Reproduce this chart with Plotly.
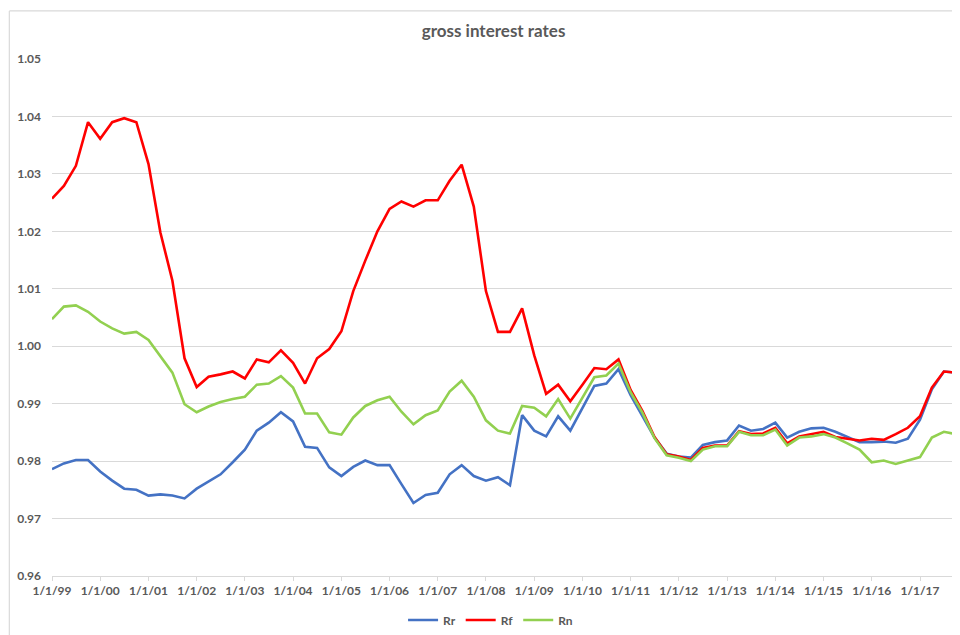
import pandas as pd
import plotly.graph_objects as go

dates = pd.date_range("1999-01-01", periods=76, freq="QS")

Rr = [0.9786, 0.9796, 0.9802, 0.9802, 0.9782, 0.9766, 0.9752, 0.9750,
      0.9740, 0.9742, 0.9740, 0.9735, 0.9752, 0.9764, 0.9777, 0.9798,
      0.9820, 0.9853, 0.9867, 0.9885, 0.9869, 0.9825, 0.9823, 0.9789,
      0.9774, 0.9790, 0.9801, 0.9793, 0.9793, 0.9760, 0.9727, 0.9741,
      0.9745, 0.9777, 0.9793, 0.9774, 0.9766, 0.9772, 0.9758, 0.9880,
      0.9853, 0.9843, 0.9878, 0.9853, 0.9892, 0.9931, 0.9935, 0.9960,
      0.9915, 0.9878, 0.9841, 0.9813, 0.9808, 0.9806, 0.9828, 0.9833,
      0.9836, 0.9862, 0.9853, 0.9856, 0.9867, 0.9841, 0.9851, 0.9857,
      0.9858, 0.9851, 0.9842, 0.9833, 0.9833, 0.9834, 0.9832, 0.9839,
      0.9872, 0.9925, 0.9956, 0.9954]

Rf = [1.0257, 1.0279, 1.0314, 1.0390, 1.0361, 1.0390, 1.0397, 1.0390,
      1.0317, 1.0198, 1.0114, 0.9979, 0.9929, 0.9947, 0.9951, 0.9956,
      0.9944, 0.9977, 0.9972, 0.9993, 0.9971, 0.9935, 0.9979, 0.9995,
      1.0026, 1.0096, 1.0149, 1.0200, 1.0239, 1.0252, 1.0243, 1.0254,
      1.0254, 1.0288, 1.0316, 1.0243, 1.0096, 1.0025, 1.0025, 1.0066,
      0.9984, 0.9917, 0.9933, 0.9904, 0.9933, 0.9962, 0.9960, 0.9977,
      0.9924, 0.9887, 0.9842, 0.9812, 0.9808, 0.9802, 0.9823, 0.9827,
      0.9827, 0.9852, 0.9847, 0.9848, 0.9858, 0.9831, 0.9843, 0.9847,
      0.9851, 0.9842, 0.9839, 0.9836, 0.9839, 0.9837, 0.9847, 0.9858,
      0.9878, 0.9928, 0.9956, 0.9954]

Rn = [1.0047, 1.0069, 1.0071, 1.0060, 1.0043, 1.0031, 1.0022, 1.0025,
      1.0011, 0.9983, 0.9954, 0.9899, 0.9885, 0.9895, 0.9903, 0.9908,
      0.9912, 0.9933, 0.9935, 0.9948, 0.9928, 0.9883, 0.9883, 0.9850,
      0.9846, 0.9876, 0.9896, 0.9906, 0.9912, 0.9886, 0.9864, 0.9880,
      0.9888, 0.9921, 0.9940, 0.9912, 0.9871, 0.9853, 0.9848, 0.9896,
      0.9893, 0.9878, 0.9908, 0.9874, 0.9910, 0.9946, 0.9949, 0.9970,
      0.9920, 0.9884, 0.9840, 0.9810, 0.9806, 0.9800, 0.9820, 0.9826,
      0.9826, 0.9851, 0.9845, 0.9845, 0.9855, 0.9827, 0.9841, 0.9843,
      0.9847, 0.9841, 0.9831, 0.9820, 0.9798, 0.9801, 0.9795, 0.9801,
      0.9807, 0.9841, 0.9851, 0.9847]

series = [("Rr", Rr, "#4472C4"), ("Rf", Rf, "#FF0000"), ("Rn", Rn, "#92D050")]

FONT = "Lato"
GREY = "#595959"

fig = go.Figure()
for name, vals, col in series:
    fig.add_trace(go.Scatter(x=dates, y=vals, name=name, mode="lines",
                             line=dict(color=col, width=2.6)))

border = dict(color="#D9D9D9", width=1.2)
fig.update_layout(
    width=952, height=627,
    margin=dict(l=44, r=0, t=51, b=59, autoexpand=False),
    paper_bgcolor="white", plot_bgcolor="white",
    title=dict(text="<b>gross interest rates</b>", x=0.51, xanchor="center",
               y=0.963, yanchor="middle",
               font=dict(family=FONT, size=17, color=GREY)),
    legend=dict(orientation="h", x=0.483, xanchor="center", y=-0.085,
                yanchor="middle", itemwidth=30,
                font=dict(family=FONT, size=12, color=GREY, weight="bold")),
    showlegend=True,
    shapes=[
        dict(type="line", xref="paper", yref="paper", x0=-0.047, x1=-0.047,
             y0=-0.12, y1=1.093, line=border, layer="above"),
        dict(type="line", xref="paper", yref="paper", x0=-0.047, x1=1.01,
             y0=1.093, y1=1.093, line=border, layer="above"),
    ],
)

fig.update_xaxes(
    type="date", range=["1999-01-01", "2017-10-31"],
    tick0="1999-01-01", dtick="M12", tickformat="%-m/%-d/%y",
    showgrid=False, showline=True, linecolor="#D9D9D9", linewidth=1,
    ticks="outside", ticklen=4, tickcolor="#D9D9D9",
    tickfont=dict(family=FONT, size=12, color=GREY, weight="bold"),
    zeroline=False,
)
fig.update_yaxes(
    range=[0.96, 1.05], dtick=0.01, tick0=0.96, tickformat=".2f",
    showgrid=True, gridcolor="#D9D9D9", gridwidth=1,
    zeroline=False, showline=False, ticks="", ticklabelstandoff=10,
    tickfont=dict(family=FONT, size=12, color=GREY, weight="bold"),
)

fig.write_html("out.html")
